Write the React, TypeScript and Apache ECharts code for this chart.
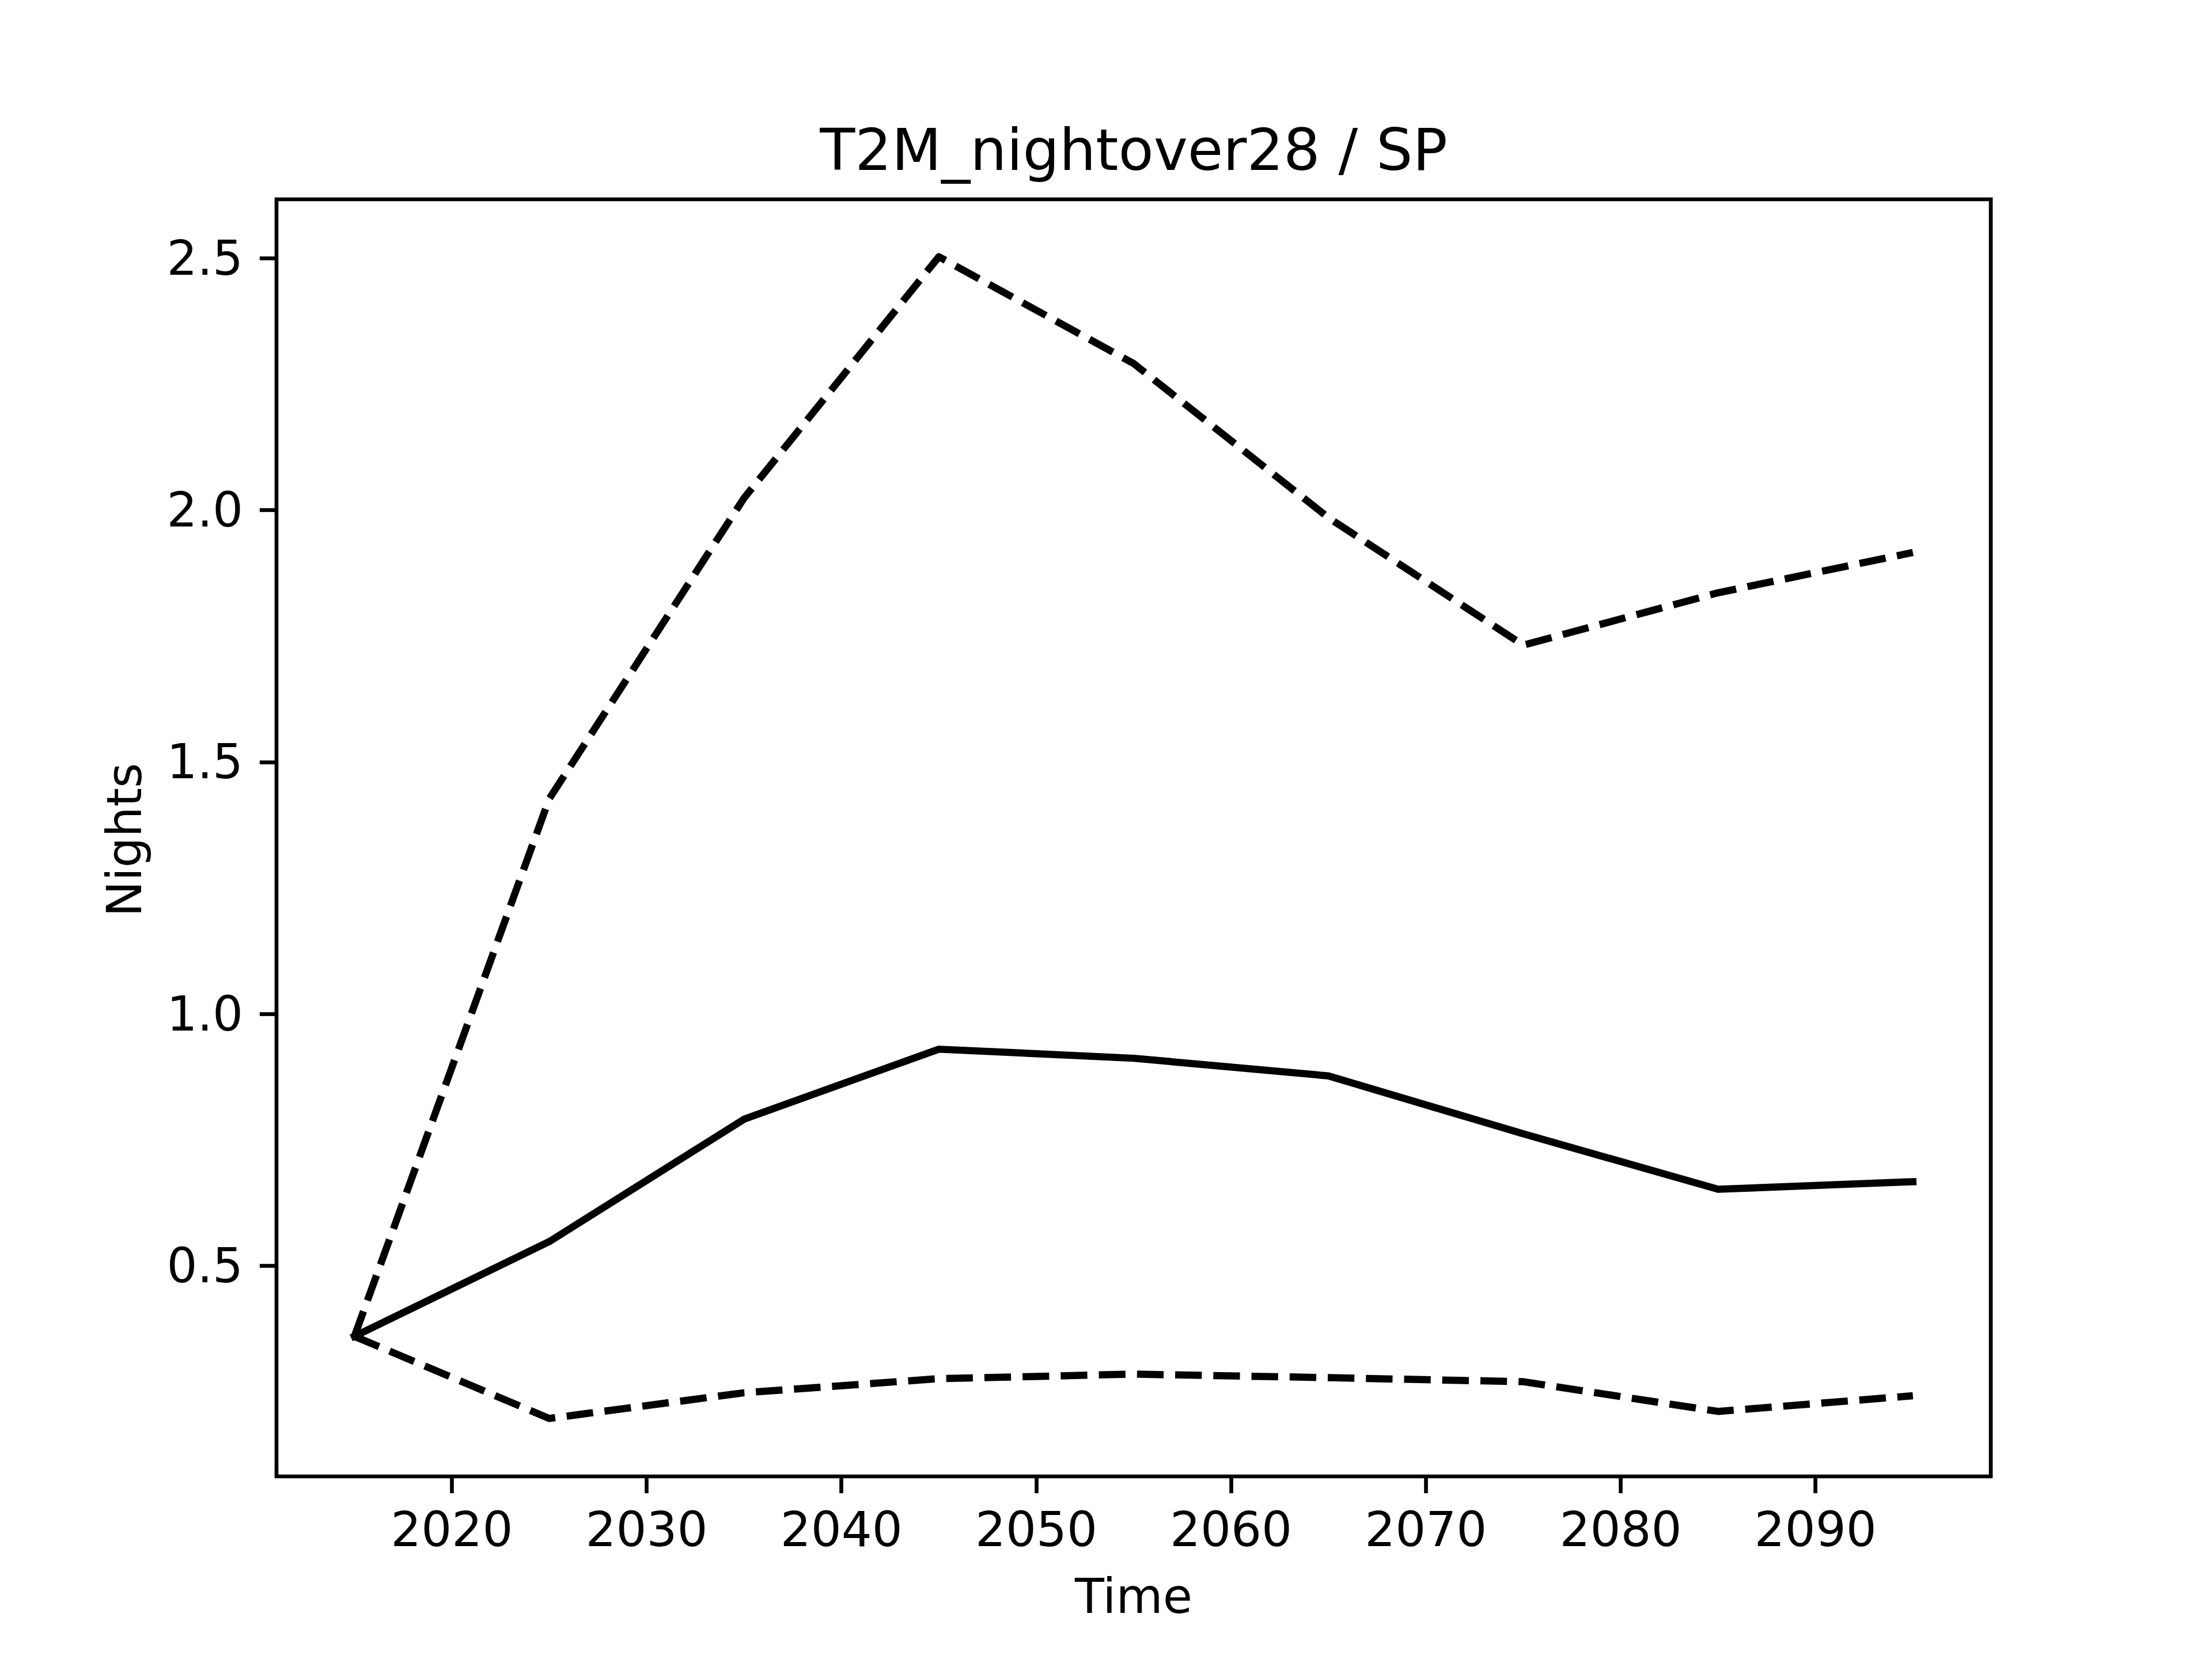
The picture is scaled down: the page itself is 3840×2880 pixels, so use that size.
import React, { useEffect, useRef } from "react";
import * as echarts from "echarts";

const years = [2015, 2025, 2035, 2045, 2055, 2065, 2075, 2085, 2095];
const meanValues = [0.36, 0.548, 0.791, 0.93, 0.912, 0.877, 0.762, 0.652, 0.667];
const upperValues = [0.36, 1.427, 2.024, 2.503, 2.291, 1.985, 1.732, 1.836, 1.916];
const lowerValues = [0.36, 0.197, 0.248, 0.276, 0.285, 0.278, 0.27, 0.211, 0.242];
const xTicks = [2020, 2030, 2040, 2050, 2060, 2070, 2080, 2090];
const yTicks = [0.5, 1.0, 1.5, 2.0, 2.5];
const titleText = "T2M_nightover28 / SP";
const xLabel = "Time";
const yLabel = "Nights";

const FONT = "DejaVu Sans";
const DPI_SCALE = 600 / 72;
const LW = 1.5 * DPI_SCALE;
const SPINE = 0.8 * DPI_SCALE;
const DASH = [3.7 * LW, 1.6 * LW];

export default function App() {
  const ref = useRef<HTMLDivElement>(null);
  useEffect(() => {
    document.body.style.margin = "0";
    const chart = echarts.init(ref.current!, null, { renderer: "svg" });
    const pairs = (vals: number[]) => years.map((y, i) => [y, vals[i]]);
    const left = 480, right = 384, top = 346, bottom = 317;
    const cx = left + (3840 - left - right) / 2;
    chart.setOption({
      animation: false,
      backgroundColor: "#ffffff",
      grid: {
        left, right, top, bottom,
        show: true,
        borderColor: "#000000",
        borderWidth: SPINE,
        backgroundColor: "transparent",
      },
      xAxis: {
        type: "value",
        min: 2011,
        max: 2099,
        axisLine: { show: false },
        splitLine: { show: false },
        axisTick: {
          show: true,
          customValues: xTicks,
          length: 3.5 * DPI_SCALE,
          lineStyle: { color: "#000000", width: SPINE },
        },
        axisLabel: {
          customValues: xTicks,
          margin: 92,
          verticalAlign: "middle",
          fontFamily: FONT,
          fontSize: 10 * DPI_SCALE,
          color: "#000000",
          formatter: (v: number) => String(v),
        },
      },
      yAxis: {
        type: "value",
        min: 0.082,
        max: 2.617,
        axisLine: { show: false },
        splitLine: { show: false },
        axisTick: {
          show: true,
          customValues: yTicks,
          length: 3.5 * DPI_SCALE,
          lineStyle: { color: "#000000", width: SPINE },
        },
        axisLabel: {
          customValues: yTicks,
          margin: 58,
          fontFamily: FONT,
          fontSize: 10 * DPI_SCALE,
          color: "#000000",
          formatter: (v: number) => v.toFixed(1),
        },
      },
      graphic: [
        {
          type: "text",
          x: cx,
          y: 260,
          style: {
            text: titleText,
            fontFamily: FONT,
            fontSize: 12 * DPI_SCALE,
            fill: "#000000",
            textAlign: "center",
            textVerticalAlign: "middle",
          },
        },
        {
          type: "text",
          x: cx,
          y: 2771,
          style: {
            text: xLabel,
            fontFamily: FONT,
            fontSize: 10 * DPI_SCALE,
            fill: "#000000",
            textAlign: "center",
            textVerticalAlign: "middle",
          },
        },
        {
          type: "text",
          x: 216,
          y: 1458,
          rotation: Math.PI / 2,
          style: {
            text: yLabel,
            fontFamily: FONT,
            fontSize: 10 * DPI_SCALE,
            fill: "#000000",
            textAlign: "center",
            textVerticalAlign: "middle",
          },
        },
      ],
      series: [
        {
          type: "line",
          data: pairs(meanValues),
          symbol: "none",
          lineStyle: { color: "#000000", width: LW, cap: "square", join: "round" },
        },
        {
          type: "line",
          data: pairs(upperValues),
          symbol: "none",
          lineStyle: { color: "#000000", width: LW, type: DASH, cap: "butt", join: "round" },
        },
        {
          type: "line",
          data: pairs(lowerValues),
          symbol: "none",
          lineStyle: { color: "#000000", width: LW, type: DASH, cap: "butt", join: "round" },
        },
      ],
    });
    return () => chart.dispose();
  }, []);
  return (
    <div
      ref={ref}
      style={{ position: "absolute", left: 0, top: 0, width: 3840, height: 2880 }}
    />
  );
}
